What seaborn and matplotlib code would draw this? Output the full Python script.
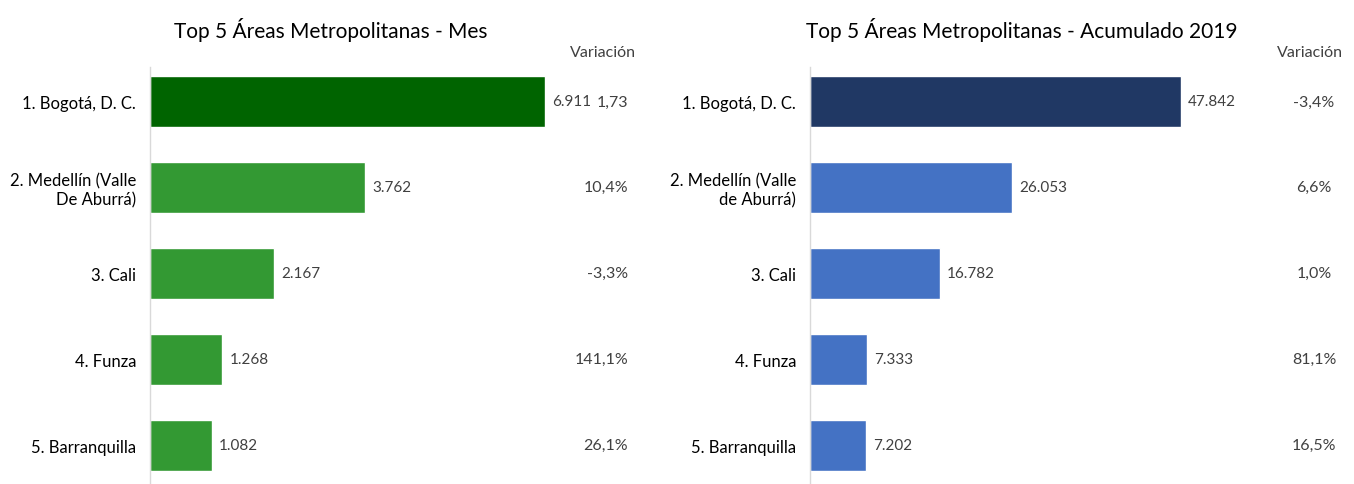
import matplotlib
matplotlib.use("Agg")
import matplotlib.pyplot as plt
import seaborn as sns
import pandas as pd

# ── Data ──────────────────────────────────────────────────────────────────────
areas_mes = ["1. Bogotá, D. C.", "2. Medellín (Valle\nDe Aburrá)", "3. Cali",
             "4. Funza", "5. Barranquilla"]
valores_mes = [6911, 3762, 2167, 1268, 1082]
variacion_mes = ["1,73", "10,4%", "-3,3%", "141,1%", "26,1%"]

areas_acum = ["1. Bogotá, D. C.", "2. Medellín (Valle\nde Aburrá)", "3. Cali",
              "4. Funza", "5. Barranquilla"]
valores_acum = [47842, 26053, 16782, 7333, 7202]
variacion_acum = ["-3,4%", "6,6%", "1,0%", "81,1%", "16,5%"]

# ── Setup ─────────────────────────────────────────────────────────────────────
sns.set_theme(style="white")
plt.rcParams["font.family"] = ["Lato", "DejaVu Sans"]

fig = plt.figure(figsize=(13.54, 4.85), dpi=100)
ax_mes = fig.add_axes([150 / 1354, 0, 500 / 1354, 417 / 485])
ax_acum = fig.add_axes([810 / 1354, 0, 535 / 1354, 417 / 485])


def fmt_miles(v):
    return f"{v:,}".replace(",", ".")


def draw_panel(ax, areas, valores, variacion, dark, light, xmax, var_x, var_ha, head_x):
    df = pd.DataFrame({"area": areas, "valor": valores})
    colors = [dark] + [light] * (len(areas) - 1)
    sns.barplot(data=df, y="area", x="valor", hue="area", palette=colors,
                legend=False, width=0.6, saturation=1, ax=ax)
    ax.set_xlim(0, xmax)
    ax.set_ylim(4.45, -0.4)
    ax.set_xlabel("")
    ax.set_ylabel("")
    ax.set_xticks([])
    for s in ["top", "right", "bottom"]:
        ax.spines[s].set_visible(False)
    ax.spines["left"].set_color("#d9d9d9")
    ax.spines["left"].set_linewidth(1)
    ax.tick_params(axis="y", length=0, pad=10, labelsize=12, labelcolor="black")
    for lbl in ax.get_yticklabels():
        lbl.set_multialignment("right")

    for i, v in enumerate(valores):
        ax.annotate(fmt_miles(v), (v, i), xytext=(5, 0), textcoords="offset points",
                    va="center", ha="left", fontsize=11, color="#404040")
        ax.text(var_x, i, variacion[i], transform=ax.get_yaxis_transform(),
                va="center", ha=var_ha, fontsize=11.5, color="#404040")
    ax.text(head_x, 1.036, "Variación", transform=ax.transAxes, ha="center",
            va="center", fontsize=11.5, color="#404040")


draw_panel(ax_mes, areas_mes, valores_mes, variacion_mes, "#006400", "#339933",
           8748, 0.956, "right", 0.906)
draw_panel(ax_acum, areas_acum, valores_acum, variacion_acum, "#203864", "#4472C4",
           68990, 0.942, "center", 0.935)

fig.text(331 / 1354, 1 - 30 / 485, "Top 5 Áreas Metropolitanas - Mes",
         ha="center", va="center", fontsize=15, color="black")
fig.text(1022 / 1354, 1 - 30 / 485, "Top 5 Áreas Metropolitanas - Acumulado 2019",
         ha="center", va="center", fontsize=15, color="black")

fig.savefig("out.png", dpi=100, facecolor="white")
